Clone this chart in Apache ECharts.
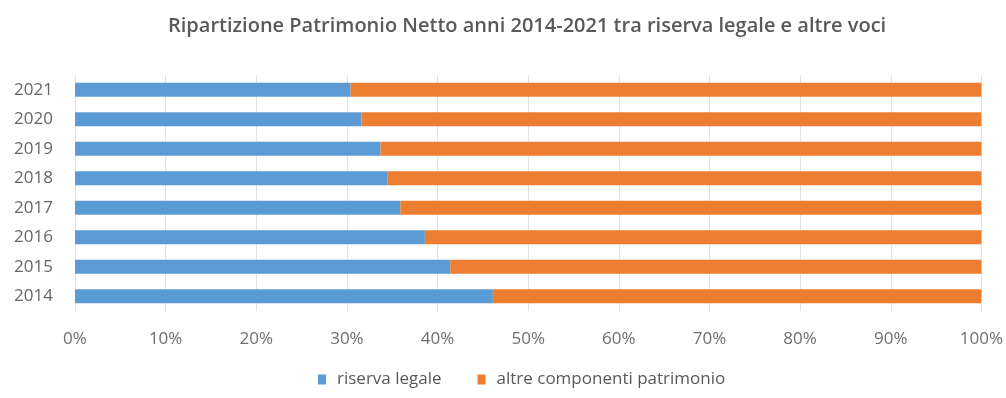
<!DOCTYPE html>
<html><head><meta charset="utf-8">
<script src="https://cdn.jsdelivr.net/npm/echarts@6/dist/echarts.min.js"></script>
<style>html,body{margin:0;padding:0;background:#fff}#c{width:1006px;height:398px}</style>
</head><body><div id="c"></div>
<script>
const years = ['2014','2015','2016','2017','2018','2019','2020','2021'];
const riservaLegale = [46.1, 41.4, 38.6, 35.9, 34.5, 33.7, 31.6, 30.4];
const altreComponenti = [53.9, 58.6, 61.4, 64.1, 65.5, 66.3, 68.4, 69.6];
const seriesNames = ['riserva legale', 'altre componenti patrimonio'];
const titleText = 'Ripartizione Patrimonio Netto anni 2014-2021 tra riserva legale e altre voci';

const font = '"Open Sans", sans-serif';
const chart = echarts.init(document.getElementById('c'));
chart.setOption({
  animation: false,
  title: {text: titleText, left: 163, top: 11,
    textStyle: {fontFamily: font, fontSize: 20, fontWeight: 600, color: '#595959'}},
  legend: {top: 366, left: 313, itemWidth: 8, itemHeight: 10, itemGap: 36,
    textStyle: {fontFamily: font, fontSize: 17, color: '#595959', padding: [0, 0, 0, 6]}, icon: 'rect'},
  grid: {left: 75, right: 23, top: 75, bottom: 87, containLabel: false},
  xAxis: {type: 'value', min: 0, max: 100, interval: 10,
    axisLabel: {formatter: '{value}%', fontFamily: font, fontSize: 17, color: '#6e6e6e', margin: 20},
    splitLine: {lineStyle: {color: '#e3e3e3'}}, axisLine: {show: false}, axisTick: {show: false}},
  yAxis: {type: 'category', data: years,
    axisLabel: {fontFamily: font, fontSize: 17, color: '#666666', margin: 22, padding: [4, 0, 0, 0]},
    axisLine: {show: false}, axisTick: {show: false}},
  series: [
    {name: seriesNames[0], type: 'bar', stack: 'a', data: riservaLegale, barWidth: '48%',
      itemStyle: {color: '#5B9BD5'}},
    {name: seriesNames[1], type: 'bar', stack: 'a', data: altreComponenti, barWidth: '48%',
      itemStyle: {color: '#ED7D31'}}
  ]
});
</script></body></html>
